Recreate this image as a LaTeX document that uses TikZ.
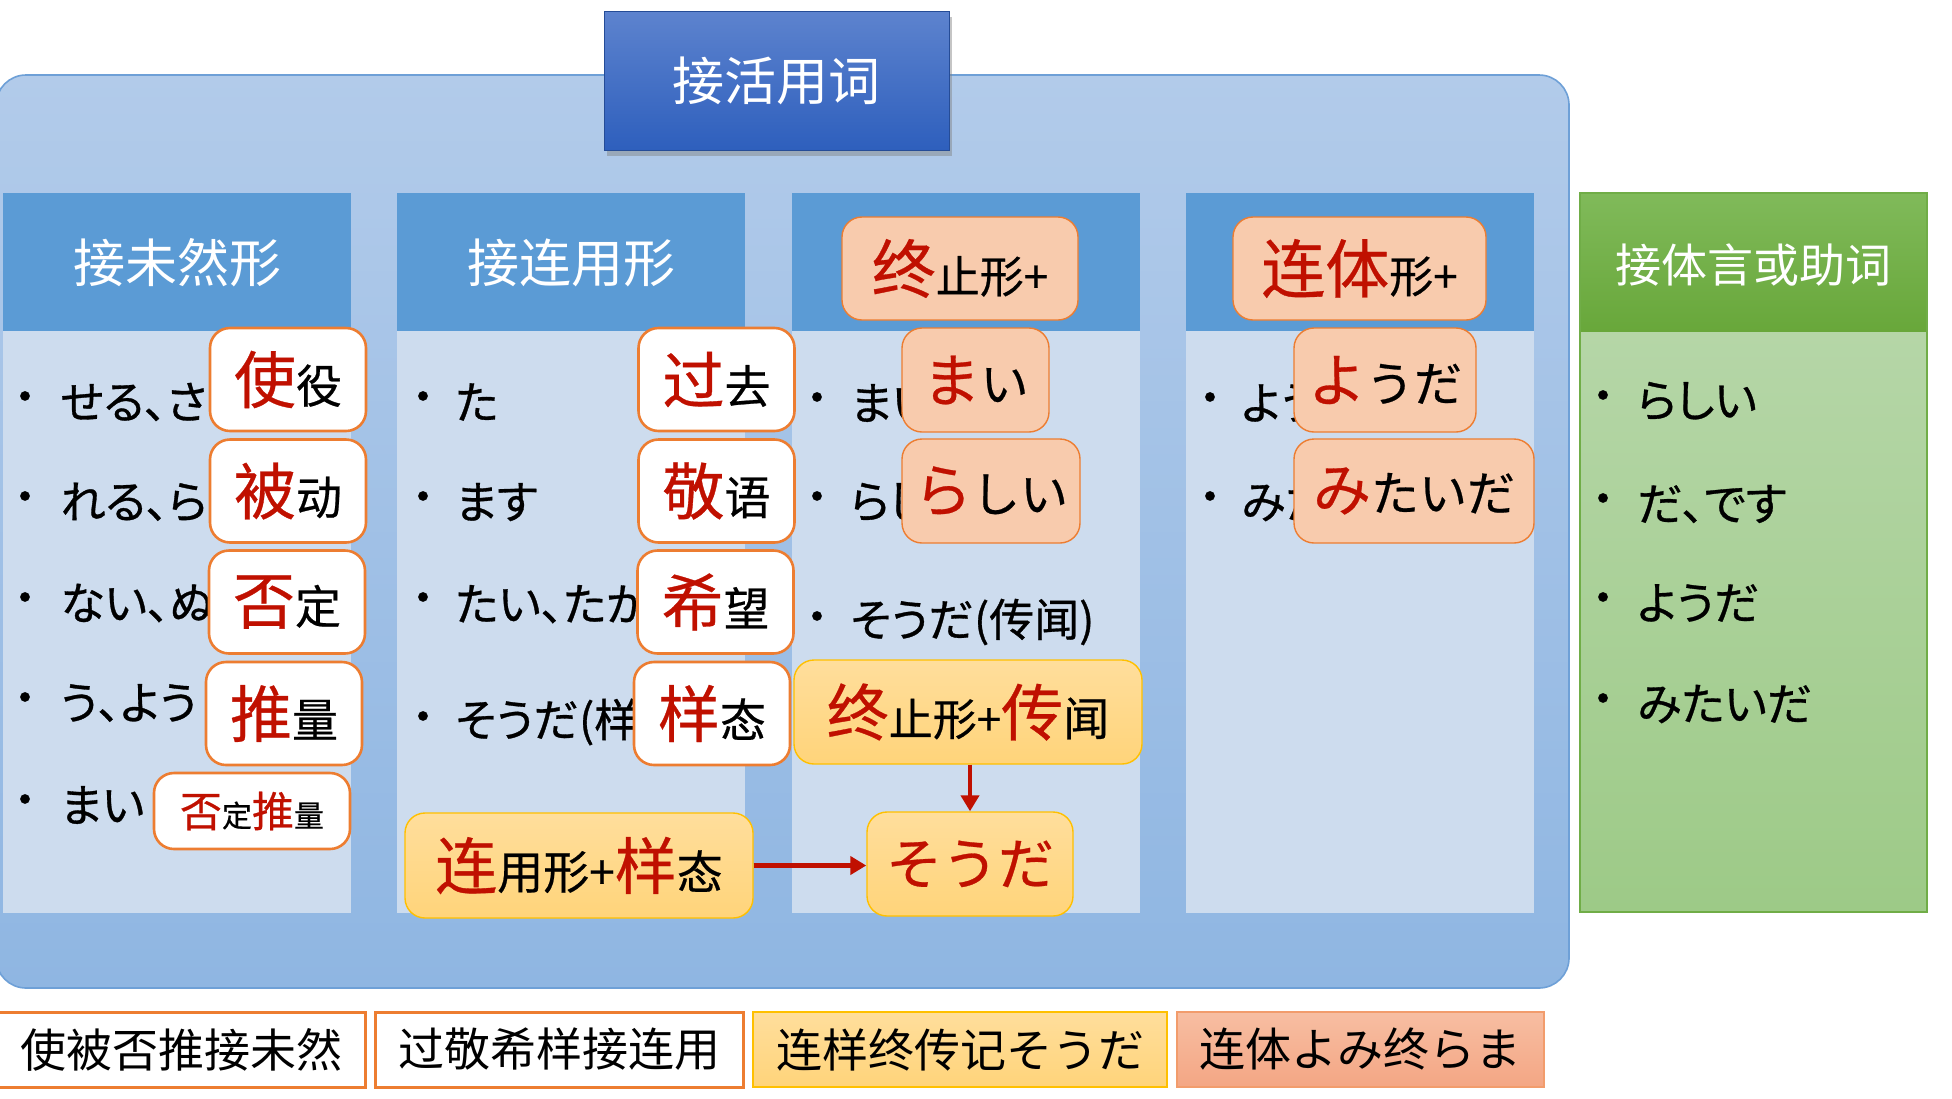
\documentclass[tikz,border=0pt]{standalone}
\usepackage{fontspec}
\setmainfont{Noto Sans CJK SC}
\newfontfamily\listfont[RawFeature=+palt, FakeBold=0.7]{Noto Sans CJK SC}
\newfontfamily\boxfont[FakeBold=0.5]{Noto Sans CJK SC}
\usetikzlibrary{arrows.meta,shadows}
\definecolor{myred}{RGB}{192,16,0}
\definecolor{contTop}{RGB}{178,203,234}
\definecolor{contBot}{RGB}{143,182,226}
\definecolor{contLine}{RGB}{110,160,215}
\definecolor{colHead}{RGB}{91,155,213}
\definecolor{colBody}{RGB}{205,220,238}
\definecolor{grTop}{RGB}{128,186,90}
\definecolor{grBot}{RGB}{104,167,58}
\definecolor{grBodyTop}{RGB}{181,214,167}
\definecolor{grBodyBot}{RGB}{157,202,135}
\definecolor{grLine}{RGB}{112,173,71}
\definecolor{tiTop}{RGB}{93,131,206}
\definecolor{tiBot}{RGB}{46,95,189}
\definecolor{orangeB}{RGB}{237,125,49}
\definecolor{peach}{RGB}{248,203,173}
\definecolor{yelTop}{RGB}{255,222,156}
\definecolor{yelBot}{RGB}{255,212,122}
\definecolor{yelLine}{RGB}{255,192,0}
\definecolor{salTop}{RGB}{247,190,162}
\definecolor{salBot}{RGB}{244,166,132}
\definecolor{salLine}{RGB}{242,156,108}
\newcommand\redch[2]{{\fontsize{#1}{#1}\selectfont\color{myred}#2}}
\newcommand\blkch[2]{{\fontsize{#1}{#1}\selectfont #2}}
\begin{document}
\begin{tikzpicture}[x=0.5pt,y=-0.5pt,
  hdtext/.style={text=white, inner sep=0pt, font=\fontsize{26}{26}\selectfont},
  listtxt/.style={anchor=west, inner sep=0pt, font=\listfont\fontsize{22.5}{22.5}\selectfont},
  bul/.style={inner sep=0pt, font=\listfont\fontsize{22}{22}\selectfont},
  wbox/.style={draw=orangeB, line width=1.3pt, fill=white, rounded corners=10pt, inner sep=0pt, minimum width=78pt, minimum height=51.5pt, font=\boxfont},
  pbox/.style={draw=orangeB, line width=0.7pt, fill=peach, rounded corners=10pt, inner sep=0pt, minimum height=52pt, font=\boxfont},
  ybox/.style={draw=yelLine, line width=0.7pt, top color=yelTop, bottom color=yelBot, rounded corners=10pt, inner sep=0pt, minimum height=52pt, font=\boxfont},
  lgbox/.style={inner sep=0pt, minimum height=37.5pt, font=\fontsize{23}{23}\selectfont},
  redarrow/.style={draw=myred, line width=2.3pt, -{Triangle[length=8pt,width=9pt]}}
]
\useasboundingbox (0,0) rectangle (1952,1098);
\fill[white] (0,0) rectangle (1952,1098);

% container
\path[draw=contLine, line width=0.8pt, rounded corners=15pt, top color=contTop, bottom color=contBot] (-4,75) rectangle (1569,988);

% columns
\foreach \xa/\xb in {3/351, 397/745, 792/1140, 1186/1534}{
  \fill[colHead] (\xa,193) rectangle (\xb,331);
  \fill[colBody] (\xa,331) rectangle (\xb,913);
}
% green column
\path[top color=grTop, bottom color=grBot] (1580,193) rectangle (1927,332);
\path[top color=grBodyTop, bottom color=grBodyBot] (1580,332) rectangle (1927,912);
\draw[grLine, line width=0.6pt] (1580,193) rectangle (1927,912);

% title
\node[draw=tiBot!80!black, line width=0.5pt, top color=tiTop, bottom color=tiBot, minimum width=172.5pt, minimum height=69.5pt, inner sep=0pt,
  drop shadow={shadow xshift=1.5pt, shadow yshift=-3pt, opacity=0.45}, text=white, font=\fontsize{26}{26}\selectfont] (title) at (776.5,80.5) {接活用词};

% headers
\node[hdtext] (h1) at (177,263) {接未然形};
\node[hdtext] (h2) at (571,263) {接连用形};
\node[text=white, inner sep=0pt, font=\fontsize{23}{23}\selectfont] (h5) at (1753,265) {接体言或助词};

% column 1 list
\foreach \yy/\tt [count=\i] in {402/せる、さ, 502/れる、ら, 603/ない、ぬ, 703/う、よう, 805/まい}{
  \node[bul] (b1\i) at (25,\yy) {·};
  \node[listtxt] (t1\i) at (60,\yy) {\tt};
}
% column 2 list
\foreach \yy/\tt [count=\i] in {402/た, 502/ます, 603/たい、たが, 722/そうだ(样}{
  \node[bul] (b2\i) at (423,\yy) {·};
  \node[listtxt] (t2\i) at (455,\yy) {\tt};
}
% column 3 list
\foreach \yy/\tt [count=\i] in {403/まい, 502/らし, 622/そうだ(传闻)}{
  \node[bul] (b3\i) at (817,\yy) {·};
  \node[listtxt] (t3\i) at (850,\yy) {\tt};
}
% column 4 list
\foreach \yy/\tt [count=\i] in {403/よう, 502/みた}{
  \node[bul] (b4\i) at (1210,\yy) {·};
  \node[listtxt] (t4\i) at (1241,\yy) {\tt};
}
% green list
\foreach \yy/\tt [count=\i] in {401/らしい, 504/だ、です, 603/ようだ, 704/みたいだ}{
  \node[bul] (b5\i) at (1603,\yy) {·};
  \node[listtxt] (t5\i) at (1637,\yy) {\tt};
}

% column 1 overlays
\node[wbox] (shiyi) at (288,379.5) {\redch{31}{使}\blkch{23}{役}};
\node[wbox] (beidong) at (288,491) {\redch{31}{被}\blkch{23}{动}};
\node[wbox] (fouding) at (287,602) {\redch{31}{否}\blkch{23}{定}};
\node[wbox] (tuiliang) at (284,713.5) {\redch{31}{推}\blkch{23}{量}};
\node[wbox, minimum width=98pt, minimum height=38pt] (fdtl) at (252,811) {\redch{21}{否}\blkch{15}{定}\redch{21}{推}\blkch{15}{量}};

% column 2 overlays
\node[wbox] (guoqu) at (716.5,379.5) {\redch{31}{过}\blkch{23}{去}};
\node[wbox] (jingyu) at (716.5,491) {\redch{31}{敬}\blkch{23}{语}};
\node[wbox] (xiwang) at (715.5,602) {\redch{31}{希}\blkch{23}{望}};
\node[wbox] (yangtai) at (712,713.5) {\redch{31}{样}\blkch{23}{态}};
\node[ybox, minimum width=174pt, minimum height=52.5pt] (lyys) at (579,865.5) {\redch{31}{连}\blkch{23}{用形+}\redch{31}{样}\blkch{23}{态}};

% column 3 overlays
\node[pbox, minimum width=118pt, minimum height=51.5pt] (zzx) at (960,268.5) {\redch{32}{终}\blkch{22}{止形+}};
\node[pbox, minimum width=73.5pt] (mai) at (975.5,380) {\redch{29}{ま}\blkch{24}{い}};
\node[pbox, minimum width=89pt] (rashii) at (991,491) {\redch{29}{ら}\blkch{24}{しい}};
\node[ybox, minimum width=174pt] (zzcw) at (968,712) {\redch{31}{终}\blkch{22}{止形+}\redch{31}{传}\blkch{23}{闻}};
\node[ybox, minimum width=103pt] (souda) at (970,864) {\redch{28}{そうだ}};

% column 4 overlays
\node[pbox, minimum width=126.5pt, minimum height=51.5pt] (ltx) at (1359.5,268.5) {\redch{32}{连体}\blkch{22}{形+}};
\node[pbox, minimum width=91pt] (youda) at (1385,380) {\redch{29}{よ}\blkch{24}{うだ}};
\node[pbox, minimum width=120pt] (mitaida) at (1414,491) {\redch{29}{み}\blkch{24}{たいだ}};

% arrows
\draw[redarrow] (zzcw.south -| souda.north) -- (souda.north);
\draw[redarrow] (lyys.east) -- (lyys.east -| souda.west);

% legend
\node[lgbox, draw=orangeB, line width=1.5pt, fill=white, minimum width=184pt] (lg1) at (181,1049.5) {使被否推接未然};
\node[lgbox, draw=orangeB, line width=1.5pt, fill=white, minimum width=184pt] (lg2) at (559,1049.5) {过敬希样接连用};
\node[lgbox, draw=yelLine, line width=0.8pt, top color=yelTop, bottom color=yelBot, minimum width=207pt] (lg3) at (960,1049.5) {连样终传记そうだ};
\node[lgbox, draw=salLine, line width=0.8pt, top color=salTop, bottom color=salBot, minimum width=183.5pt] (lg4) at (1360.5,1049.5) {连体よみ终らま};
\end{tikzpicture}
\end{document}
